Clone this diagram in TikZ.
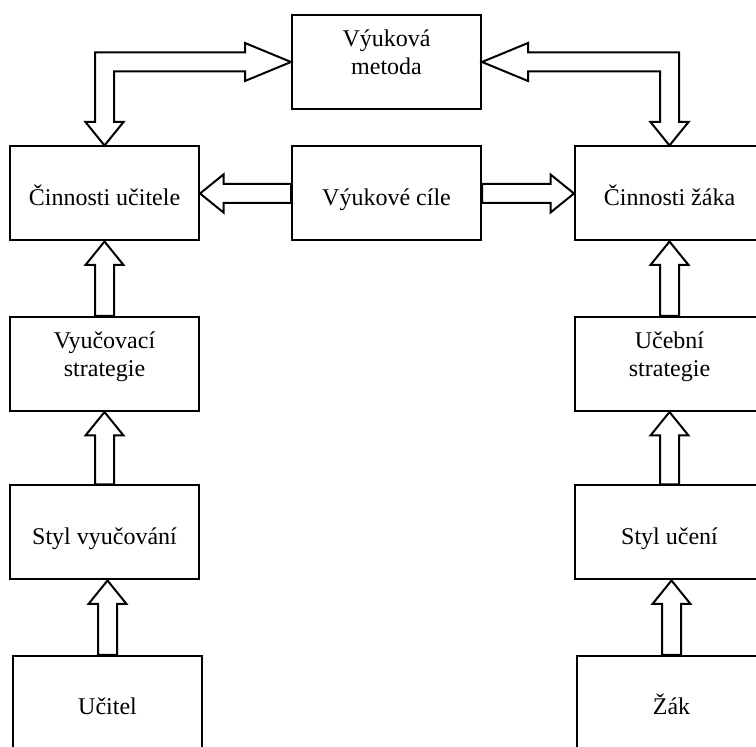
\documentclass[tikz,border=0pt]{standalone}
\usepackage{fontspec}
\setmainfont{Liberation Serif}
\usetikzlibrary{calc}

% block-arrow dimensions (picture units)
\def\sw{9.5}   % half width of the shaft
\def\hw{19}    % half width of the head
\def\hl{23.5}  % length of a short head
\def\hL{46}    % length of a long head

\tikzset{
  box/.style={draw, line width=1pt, rectangle, inner sep=0pt,
    minimum width=94.5pt, minimum height=47pt,
    font=\fontsize{12}{14}\selectfont},
  oneline/.style={box, text height=12pt, text depth=0pt},
  twoline/.style={box, text height=0pt, text depth=15pt},
  blockarrow/.style={draw, line width=1pt, fill=white, line join=miter}
}

% hollow arrow pointing upwards from the top of #1 to the bottom of #2
\newcommand\upblock[2]{%
  \coordinate (tp) at (#1.north |- #2.south);
  \draw[blockarrow] ($(#1.north)+(-\sw,0)$) -- ($(tp)+(-\sw,\hl)$)
    -- ($(tp)+(-\hw,\hl)$) -- (tp) -- ($(tp)+(\hw,\hl)$)
    -- ($(tp)+(\sw,\hl)$) -- ($(#1.north)+(\sw,0)$) -- cycle;}

\newcommand\twolines[2]{\begin{tabular}[t]{@{}c@{}}#1\\#2\end{tabular}}

\begin{document}
\begin{tikzpicture}[x=0.5pt,y=-0.5pt]
  \useasboundingbox (0,0) rectangle (756,747);
  \clip (0,0) rectangle (756,747);

  % boxes
  \node[twoline] (vm) at (386.5,62)   {\twolines{Výuková}{metoda}};
  \node[oneline] (cu) at (104.5,193.5) {Činnosti učitele};
  \node[oneline] (vc) at (386.5,193.5) {Výukové cíle};
  \node[oneline] (cz) at (669.5,193.5) {Činnosti žáka};
  \node[twoline] (vs) at (104.5,364)   {\twolines{Vyučovací}{strategie}};
  \node[twoline] (us) at (669.5,364)   {\twolines{Učební}{strategie}};
  \node[oneline] (sv) at (104.5,532.5) {Styl vyučování};
  \node[oneline] (su) at (669.5,532.5) {Styl učení};
  \node[oneline] (u)  at (107.5,703)   {Učitel};
  \node[oneline] (z)  at (671.5,703)   {Žák};

  % vertical arrows up the two columns
  \upblock{vs}{cu}
  \upblock{sv}{vs}
  \upblock{u}{sv}
  \upblock{us}{cz}
  \upblock{su}{us}
  \upblock{z}{su}

  % goals -> teacher activities
  \coordinate (tl) at (cu.east |- vc.west);
  \draw[blockarrow] ($(vc.west)+(0,-\sw)$) -- ($(tl)+(\hl,-\sw)$)
    -- ($(tl)+(\hl,-\hw)$) -- (tl) -- ($(tl)+(\hl,\hw)$)
    -- ($(tl)+(\hl,\sw)$) -- ($(vc.west)+(0,\sw)$) -- cycle;

  % goals -> pupil activities
  \coordinate (tr) at (cz.west |- vc.east);
  \draw[blockarrow] ($(vc.east)+(0,-\sw)$) -- ($(tr)+(-\hl,-\sw)$)
    -- ($(tr)+(-\hl,-\hw)$) -- (tr) -- ($(tr)+(-\hl,\hw)$)
    -- ($(tr)+(-\hl,\sw)$) -- ($(vc.east)+(0,\sw)$) -- cycle;

  % method <-> teacher activities (bent, two heads)
  \coordinate (lc) at (cu.north |- vm.west);
  \draw[blockarrow] (cu.north) -- ($(cu.north)+(\hw,-\hl)$)
    -- ($(cu.north)+(\sw,-\hl)$) -- ($(lc)+(\sw,\sw)$)
    -- ($(vm.west)+(-\hL,\sw)$) -- ($(vm.west)+(-\hL,\hw)$)
    -- (vm.west) -- ($(vm.west)+(-\hL,-\hw)$)
    -- ($(vm.west)+(-\hL,-\sw)$) -- ($(lc)+(-\sw,-\sw)$)
    -- ($(cu.north)+(-\sw,-\hl)$) -- ($(cu.north)+(-\hw,-\hl)$) -- cycle;

  % method <-> pupil activities (bent, two heads)
  \coordinate (rc) at (cz.north |- vm.east);
  \draw[blockarrow] (cz.north) -- ($(cz.north)+(-\hw,-\hl)$)
    -- ($(cz.north)+(-\sw,-\hl)$) -- ($(rc)+(-\sw,\sw)$)
    -- ($(vm.east)+(\hL,\sw)$) -- ($(vm.east)+(\hL,\hw)$)
    -- (vm.east) -- ($(vm.east)+(\hL,-\hw)$)
    -- ($(vm.east)+(\hL,-\sw)$) -- ($(rc)+(\sw,-\sw)$)
    -- ($(cz.north)+(\sw,-\hl)$) -- ($(cz.north)+(\hw,-\hl)$) -- cycle;
\end{tikzpicture}
\end{document}
